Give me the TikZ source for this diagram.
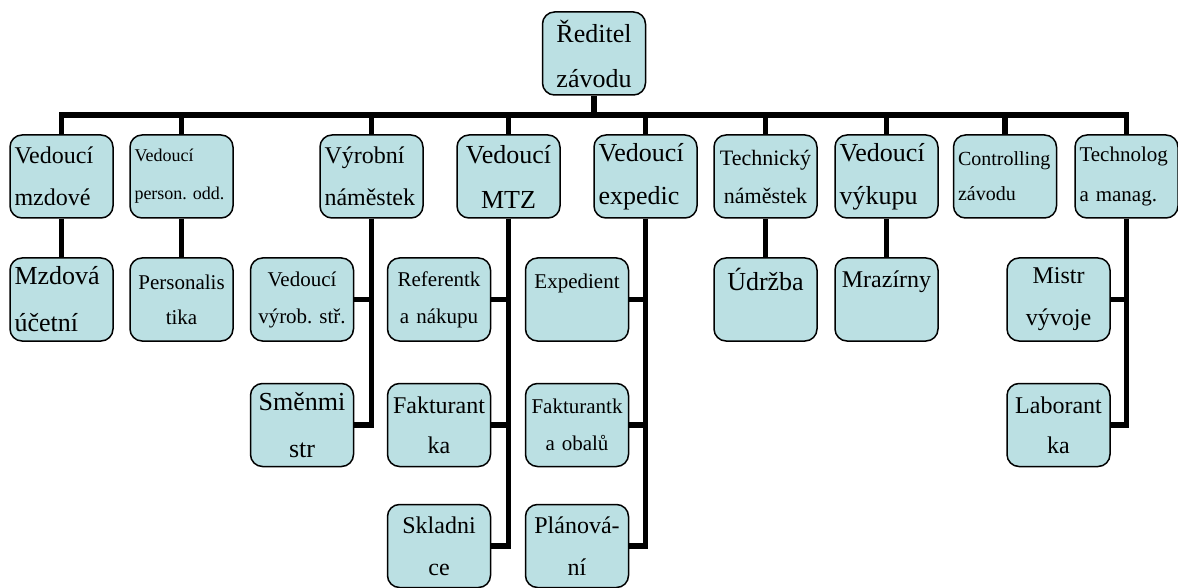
\documentclass[tikz,border=0pt]{standalone}
\usepackage{fontspec}
\setmainfont{Liberation Serif}
\usepackage{tikz}
\usepackage{xcolor}
\definecolor{boxblue}{RGB}{187,224,227}
\frenchspacing

\begin{document}
\begin{tikzpicture}[x=0.5pt,y=-0.5pt,
  unit/.style={draw, fill=boxblue, rounded corners=6pt, line width=0.75pt,
    minimum width=51.5pt, minimum height=41.5pt, inner xsep=2.25pt,
    inner ysep=0pt, text width=47pt, align=center},
  sz/.style 2 args={font=\fontsize{#1}{#2}\selectfont},
  link/.style={line width=2.8pt}]
\useasboundingbox (0,0) rectangle (1178,588);
\node [unit, sz={13}{22.5}] (red) at (594,53.5) {Ředitel\\závodu};
\coordinate (bus) at (594,115);
% first row
\node [unit, sz={12}{21}, align=left] (mzd) at (61.5,176.5) {Vedoucí\\mzdové};
\node [unit, sz={9}{19}, align=left] (per) at (181.5,176.5) {Vedoucí\\person. odd.};
\node [unit, sz={12}{21}, align=left] (vyr) at (371.5,176.5) {Výrobní\\náměstek};
\node [unit, sz={13}{22.5}] (mtz) at (508.5,176.5) {Vedoucí\\MTZ};
\node [unit, sz={13}{21.5}, align=left] (exp) at (645.5,176.5) {Vedoucí\\expedic};
\node [unit, sz={11}{19}] (tech) at (765.5,176.5) {Technický\\náměstek};
\node [unit, sz={13}{21.5}, align=left] (vyk) at (886.5,176.5) {Vedoucí\\výkupu};
\node [unit, sz={10}{17.5}, align=left] (ctrl) at (1005,176.5) {Controlling\\závodu};
\node [unit, sz={10.5}{20}, align=left] (tgl) at (1126.5,176.5) {Technolog\\a manag.};
% second row
\node [unit, sz={13}{23.5}, align=left] (mzduc) at (61.5,299.5) {Mzdová\\účetní};
\node [unit, sz={10.5}{17.5}] (pers) at (181.5,299.5) {Personalis\\tika};
\node [unit, sz={10.5}{18.5}] (vvs) at (302,299.5) {Vedoucí\\výrob. stř.};
\node [unit, sz={10.5}{18.5}] (ref) at (439,299.5) {Referentk\\a nákupu};
\node [unit, sz={10.5}{18.5}] (expd) at (577,299.5) {Expedient\\\mbox{}};
\node [unit, sz={13}{20}] (udr) at (765.5,299.5) {Údržba\\\mbox{}};
\node [unit, sz={12}{20}] (mraz) at (886.5,299.5) {Mrazírny\\\mbox{}};
\node [unit, sz={12}{21}] (mistr) at (1058.5,299.5) {Mistr\\vývoje};
% third row
\node [unit, sz={13}{23.5}] (smen) at (302,425) {Směnmi\\str};
\node [unit, sz={12}{20}] (fakt) at (439,425) {Fakturant\\ka};
\node [unit, sz={10.5}{18.5}] (fakob) at (577,425) {Fakturantk\\a obalů};
\node [unit, sz={12}{20}] (lab) at (1058.5,425) {Laborant\\ka};
% fourth row
\node [unit, sz={12}{21}] (skl) at (439,546) {Skladni\\ce};
\node [unit, sz={12}{21}] (plan) at (577,546) {Plánová-\\ní};
% lines
\draw [link] (red.south) -- (bus);
\foreach \n in {mzd,per,vyr,mtz,exp,tech,vyk,ctrl,tgl}
  \draw [link] (\n.north) |- (bus);
\foreach \a/\b in {mzd/mzduc,per/pers,tech/udr,vyk/mraz}
  \draw [link] (\a.south) -- (\b.north);
\foreach \a/\b in {vyr/vvs,vyr/smen,mtz/ref,mtz/fakt,mtz/skl,exp/expd,exp/fakob,exp/plan,tgl/mistr,tgl/lab}
  \draw [link] (\a.south) |- (\b.east);
\end{tikzpicture}
\end{document}
